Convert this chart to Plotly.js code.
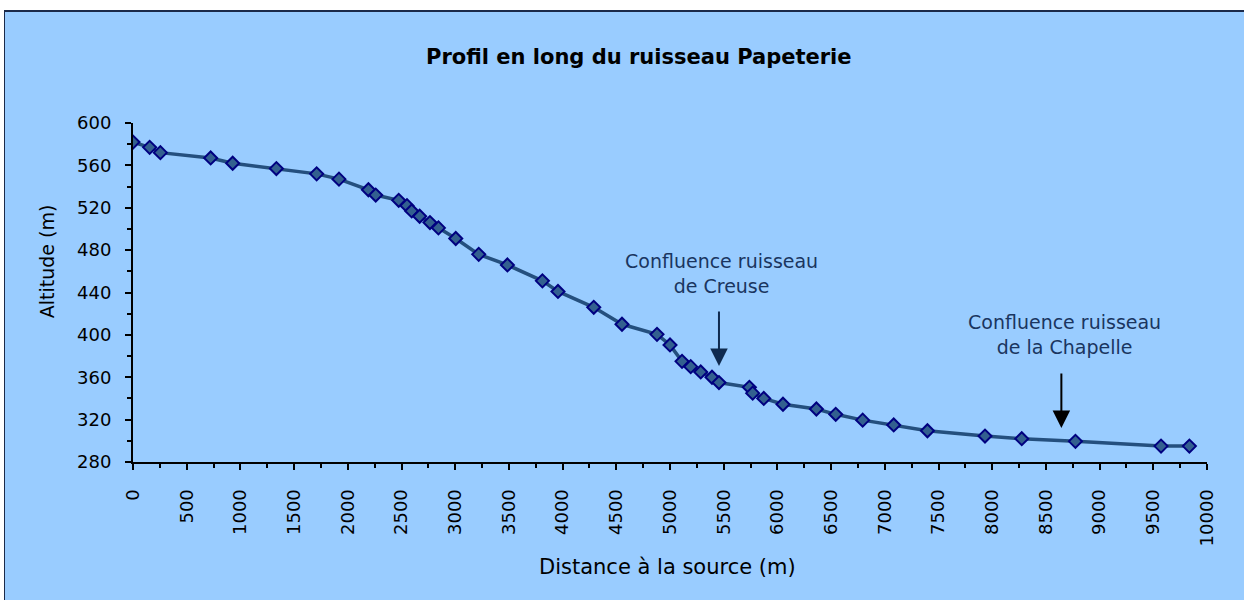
<!DOCTYPE html>
<html>
<head>
<meta charset="utf-8">
<script src="https://cdn.plot.ly/plotly-3.0.1.min.js"></script>
<style>
  html, body { margin: 0; padding: 0; background: #ffffff; overflow: hidden; width: 1244px; height: 600px; }
  #frame { position: absolute; left: 4px; top: 10px; width: 1250px; height: 600px; border: 1px solid #1b2a4a; border-top-width: 2px; background: #99CCFF; }
  #chart { width: 1250px; height: 600px; }
</style>
</head>
<body>
<div id="frame"><div id="chart"></div></div>
<script>
// Distance à la source (m)
const distance = [0, 155, 255, 723, 928, 1335, 1710, 1918, 2192, 2260, 2474, 2551, 2595,
  2669, 2765, 2844, 3005, 3219, 3486, 3812, 3957, 4290, 4553, 4879, 5000, 5112, 5193,
  5286, 5391, 5456, 5739, 5770, 5873, 6052, 6363, 6543, 6794, 7083, 7397, 7933, 8275,
  8775, 9572, 9836];
// Altitude (m)
const altitude = [582, 577, 572, 567, 562, 557, 552, 547, 537, 532, 527, 522, 517,
  512, 506, 501, 491, 476, 466, 451, 441, 426, 410, 400.5, 390.5, 375, 370, 365,
  360, 355, 350.5, 345, 340, 334.5, 330, 325, 319.5, 315, 309.5, 304.5, 302,
  299.5, 295, 295];

const xTickValues = [0, 500, 1000, 1500, 2000, 2500, 3000, 3500, 4000, 4500, 5000,
  5500, 6000, 6500, 7000, 7500, 8000, 8500, 9000, 9500, 10000];
const yTickValues = [280, 320, 360, 400, 440, 480, 520, 560, 600];

const chartTitle = "Profil en long du ruisseau Papeterie";
const xTitle = "Distance à la source (m)";
const yTitle = "Altitude (m)";

const confluenceLabels = ["Confluence ruisseau<br>de Creuse", "Confluence ruisseau<br>de la Chapelle"];
const confluenceArrowX = [5456, 8644];
const confluenceArrowY = [370.6, 312.2];
const confluenceTextX = [5481, 8675];
const confluenceTextY = [457.7, 400.6];
const arrowColors = ["#0f2a4f", "#000000"];

const FONT = "DejaVu Sans, Verdana, sans-serif";

const trace = {
  x: distance, y: altitude, type: "scatter", mode: "lines+markers",
  line: { color: "#244f7e", width: 3.5 },
  marker: { symbol: "diamond", size: 10, color: "#33608f", line: { color: "#000080", width: 2 } },
  hoverinfo: "x+y", showlegend: false
};

const annotations = [];
for (let i = 0; i < confluenceLabels.length; i++) {
  annotations.push({
    x: confluenceTextX[i], y: confluenceTextY[i], xref: "x", yref: "y",
    text: confluenceLabels[i], showarrow: false, xanchor: "center", yanchor: "middle",
    font: { family: FONT, size: 19, color: "#1a3560" }, align: "center"
  });
  annotations.push({
    x: confluenceArrowX[i], y: confluenceArrowY[i], xref: "x", yref: "y",
    text: "", showarrow: true, ax: 0, ay: -56, axref: "pixel", ayref: "pixel",
    arrowhead: 2, arrowsize: 1.75, arrowwidth: 2, arrowcolor: arrowColors[i]
  });
}
annotations.push({
  text: yTitle, xref: "paper", yref: "paper", x: -0.0806, y: 0.5935,
  xanchor: "center", yanchor: "middle", textangle: -90, showarrow: false,
  font: { family: FONT, size: 19, color: "#000000" }
});
annotations.push({
  text: xTitle, xref: "paper", yref: "paper", x: 0.4979, y: -0.3106,
  xanchor: "center", yanchor: "middle", showarrow: false,
  font: { family: FONT, size: 21, color: "#000000" }
});

const layout = {
  width: 1250, height: 600,
  paper_bgcolor: "#99CCFF", plot_bgcolor: "#99CCFF",
  margin: { l: 128.3, r: 47.7, t: 110.7, b: 150.3, pad: 0 },
  font: { family: FONT, size: 18, color: "#000000" },
  title: { text: "<b>" + chartTitle + "</b>", x: 0.507, xanchor: "center", y: 0.925, yanchor: "middle", yref: "container",
    font: { family: FONT, size: 21, color: "#000000" } },
  xaxis: {
    range: [0, 10000], tickvals: xTickValues, ticktext: xTickValues.map(String),
    tickangle: -90, ticks: "outside", ticklen: 6, tickwidth: 2, tickcolor: "#000",
    minor: { dtick: 250, ticks: "outside", ticklen: 4, tickwidth: 2, tickcolor: "#000", showgrid: false },
    showline: true, linecolor: "#000", linewidth: 2, showgrid: false, zeroline: false,
    tickfont: { family: FONT, size: 18, color: "#000" }, ticklabelstandoff: 12
  },
  yaxis: {
    range: [280, 600], tickvals: yTickValues, ticktext: yTickValues.map(String),
    ticks: "outside", ticklen: 6, tickwidth: 2, tickcolor: "#000",
    minor: { dtick: 20, ticks: "outside", ticklen: 4, tickwidth: 2, tickcolor: "#000", showgrid: false },
    showline: true, linecolor: "#000", linewidth: 2, showgrid: false, zeroline: false,
    tickfont: { family: FONT, size: 18, color: "#000" }, ticklabelstandoff: 10
  },
  annotations: annotations
};

Plotly.newPlot("chart", [trace], layout, { displayModeBar: false, staticPlot: true });
</script>
</body>
</html>
